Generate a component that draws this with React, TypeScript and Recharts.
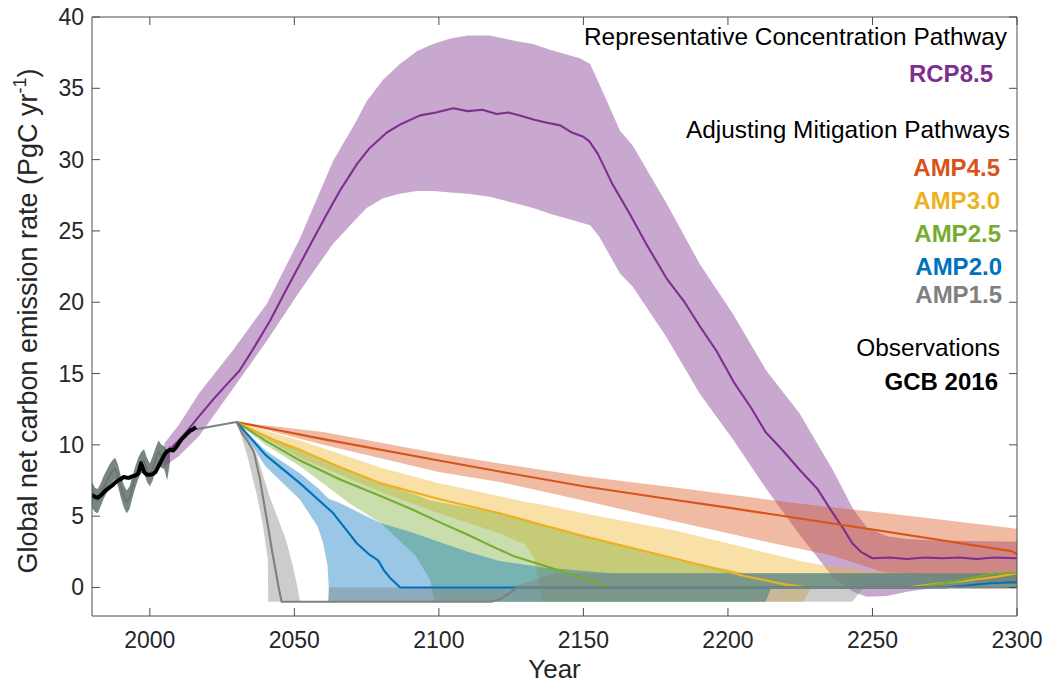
import { Area, ComposedChart, Line, XAxis, YAxis } from "recharts";

const FONT = '"Liberation Sans", Arial, Helvetica, sans-serif';
const AXIS = "#4d4d4d";
const TEXT = "#262626";

const X_TICKS = [2000, 2050, 2100, 2150, 2200, 2250, 2300];
const Y_TICKS = [0, 5, 10, 15, 20, 25, 30, 35, 40];

// GCB 2016 observations
const OBS_YEARS = [
  1980, 1981, 1982, 1983, 1984, 1985, 1986, 1987, 1988, 1989, 1990, 1991, 1992,
  1993, 1994, 1995, 1996, 1997, 1998, 1999, 2000, 2001, 2002, 2003, 2004, 2005,
  2006, 2007, 2008, 2009, 2010, 2011, 2012, 2013, 2014, 2015, 2016,
];
const OBS = [
  6.5, 6.35, 6.3, 6.45, 6.65, 6.85, 7.0, 7.15, 7.35, 7.5, 7.6, 7.75, 7.7, 7.7,
  7.8, 7.85, 8.0, 8.7, 8.1, 7.9, 7.9, 7.95, 8.1, 8.5, 8.9, 9.3, 9.55, 9.65, 9.6,
  9.8, 10.1, 10.4, 10.6, 10.8, 11.0, 11.1, 11.25,
];

// historical ensemble range (all pathways overlapping)
const HIST_YEARS = [
  1980, 1981, 1982, 1983, 1984, 1985, 1986, 1987, 1988, 1989, 1990, 1991, 1992,
  1993, 1994, 1995, 1996, 1997, 1998, 1999, 2000, 2001, 2002, 2003, 2004, 2005,
  2006, 2007,
];
const HIST_LO = [
  5.6, 5.3, 5.2, 5.7, 6.2, 6.6, 7.0, 7.4, 7.6, 7.1, 6.3, 5.6, 5.2, 5.5, 6.3, 7.0,
  7.6, 8.0, 8.1, 7.4, 7.1, 7.5, 8.2, 8.7, 8.4, 8.3, 7.5, 8.8,
];
const HIST_HI = [
  7.4, 7.0, 6.9, 7.3, 7.8, 8.2, 8.6, 8.9, 9.1, 8.6, 7.8, 7.2, 6.8, 7.1, 7.8, 8.5,
  9.1, 9.5, 9.7, 9.1, 8.7, 9.2, 9.8, 10.3, 10.0, 9.9, 9.6, 10.0,
];
const HIST_MEAN = [
  6.5, 6.15, 6.05, 6.5, 7.0, 7.4, 7.8, 8.15, 8.35, 7.85, 7.05, 6.4, 6.0, 6.3,
  7.05, 7.75, 8.35, 8.75, 8.9, 8.25, 7.9, 8.35, 9.0, 9.5, 9.2, 9.3,
];

// RCP8.5
const RCP_YEARS = [
  2005, 2008, 2010, 2013, 2017, 2022, 2026, 2031, 2036, 2041.6, 2047, 2052, 2057,
  2061.3, 2066, 2071.7, 2076, 2082, 2087, 2093.5, 2099, 2105, 2110, 2115, 2120,
  2124, 2128, 2133, 2137, 2142, 2146, 2150, 2152, 2155, 2160, 2166, 2172, 2179,
  2185, 2190, 2196, 2202, 2208, 2213, 2219, 2225, 2231, 2236, 2240, 2243, 2246,
  2250, 2256, 2262, 2268, 2274, 2280, 2286, 2292, 2300,
];
const RCP = [
  9.3, 9.9, 10.3, 11.0, 12.0, 13.2, 14.1, 15.2, 16.8, 18.7, 20.8, 22.7, 24.6,
  26.2, 27.9, 29.7, 30.8, 31.9, 32.5, 33.1, 33.3, 33.6, 33.4, 33.5, 33.2, 33.3,
  33.1, 32.8, 32.6, 32.4, 31.9, 31.6, 31.3, 30.4, 28.3, 26.2, 24.0, 21.6, 20.0,
  18.4, 16.6, 14.4, 12.6, 10.9, 9.6, 8.2, 6.9, 5.3, 4.1, 3.1, 2.5, 2.05, 2.1,
  2.0, 2.1, 2.05, 2.1, 2.0, 2.1, 2.05,
];
const RCP_BAND_YEARS = [
  2005, 2010, 2017, 2029, 2040.5, 2052, 2063.4, 2071.7, 2075, 2080.7, 2086.5,
  2092.4, 2098, 2104, 2110, 2117.7, 2127, 2132.6, 2138.4, 2148.8, 2152.3, 2155.5,
  2162.7, 2167, 2178.6, 2190.2, 2201.7, 2213.3, 2224.8, 2236.4, 2243.3, 2248,
  2255, 2262, 2272, 2300,
];
const RCP_HI = [
  10.1, 11.4, 13.6, 16.7, 19.9, 24.5, 29.9, 32.8, 34.1, 35.6, 36.7, 37.6, 38.1,
  38.5, 38.7, 38.7, 38.3, 38.1, 37.7, 37.1, 36.7, 35.3, 32.0, 31.0, 27.0, 22.7,
  19.2, 15.2, 12.2, 8.2, 5.5, 4.2, 3.6, 3.4, 3.3, 3.2,
];
const RCP_LO = [
  8.5, 9.2, 10.6, 14.0, 17.3, 20.8, 24.1, 25.9, 26.6, 27.3, 27.6, 27.8, 27.8,
  27.7, 27.6, 27.4, 26.9, 26.6, 26.2, 25.6, 25.4, 24.6, 22.0, 21.1, 17.6, 13.6,
  10.4, 6.9, 3.7, 0.7, -0.3, -0.65, -0.6, -0.3, 0, 0.3,
];

// AMP4.5
const A45_YEARS = [2030, 2060, 2100, 2121, 2150, 2183, 2200, 2250, 2298, 2300];
const A45 = [11.6, 10.4, 8.9, 8.13, 7.1, 6.1, 5.6, 4.06, 2.55, 2.35];
const A45_BAND_YEARS = [2030, 2060, 2100, 2121, 2150, 2183, 2220, 2235, 2255, 2298, 2300];
const A45_HI = [11.6, 10.9, 9.4, 8.7, 7.8, 6.97, 6.0, 5.65, 5.2, 4.17, 4.1];
const A45_LO = [11.6, 10.0, 8.1, 7.4, 6.1, 4.57, 2.9, 2.3, 1.0, 0.3, 0.2];

// AMP3.0
const A30_YEARS = [
  2030, 2036, 2042, 2052, 2065, 2080, 2100, 2121, 2150, 2183, 2206, 2220, 2228,
  2262, 2270, 2281, 2293, 2300,
];
const A30 = [
  11.6, 11.0, 10.4, 9.65, 8.5, 7.3, 6.2, 5.2, 3.6, 1.96, 0.79, 0.2, 0, 0, 0.2,
  0.44, 0.75, 1.0,
];
const A30_BAND_YEARS = [
  2030, 2052, 2080, 2100, 2121, 2130, 2133, 2136, 2150, 2183, 2210, 2226, 2229,
  2235, 2250, 2265, 2300,
];
const A30_HI = [
  11.6, 10.3, 8.4, 7.3, 6.4, 6.0, 5.9, 5.8, 5.2, 3.94, 2.6, 1.8, 1.7, 1.5, 1.15,
  1.0, 1.0,
];
const A30_LO = [11.6, 9.1, 6.7, 5.2, 3.8, 3.0, 2.0, -1, -1, -1, -1, -1, 0, 0, 0, 0, 0];

// AMP2.5
const A25_YEARS = [
  2030, 2040, 2052, 2066, 2080, 2091, 2100, 2110, 2121, 2126, 2140, 2150, 2159,
  2265, 2276, 2283, 2291, 2300,
];
const A25 = [
  11.6, 10.3, 8.9, 7.55, 6.4, 5.45, 4.6, 3.7, 2.64, 2.19, 1.3, 0.65, 0, 0, 0.33,
  0.6, 0.96, 1.05,
];
const A25_BAND_YEARS = [
  2030, 2040, 2052, 2069, 2080, 2092, 2097, 2098.5, 2121, 2150, 2183, 2206, 2213,
  2215, 2300,
];
const A25_HI = [11.6, 10.7, 9.65, 8.2, 7.3, 6.5, 6.1, 6.05, 5.2, 3.6, 1.96, 1.0, 1.0, 1.0, 1.0];
const A25_LO = [11.6, 10.0, 8.5, 5.9, 4.5, 2.2, 0.5, -1, -1, -1, -1, -1, -1, 0, 0];

// AMP2.0
const A20_YEARS = [
  2030, 2040, 2052, 2063.5, 2071.6, 2076, 2079, 2081, 2083, 2086.6, 2275, 2281,
  2290.6, 2300,
];
const A20 = [11.6, 9.3, 7.3, 5.2, 3.1, 2.3, 1.9, 1.2, 0.7, 0, 0, 0.1, 0.3, 0.37];
const A20_BAND_YEARS = [
  2030, 2040, 2052, 2058, 2060, 2061.5, 2061.9, 2062, 2065, 2075, 2080, 2090, 2100,
  2110, 2121, 2133, 2136, 2160, 2213, 2215, 2300,
];
const A20_HI = [
  11.6, 9.6, 8.0, 7.0, 6.6, 6.3, 6.25, 6.2, 6.0, 5.0, 4.5, 3.9, 3.2, 2.5, 1.85,
  1.5, 1.4, 1.0, 1.0, 1.0, 1.0,
];
const A20_LO = [
  11.6, 8.5, 6.15, 4.3, 3.1, 1.5, 0, -1, -1, -1, -1, -1, -1, -1, -1, -1, -1, -1,
  -1, 0, 0,
];

// AMP1.5 (also carries the bridge from the observations to 2030)
const A15_YEARS = [
  2016, 2030, 2032, 2034, 2036, 2038, 2039.3, 2040.8, 2042.2, 2044.5, 2045.6,
  2114, 2118, 2121, 2124.6, 2127, 2300,
];
const A15 = [
  11.1, 11.6, 10.8, 10.2, 9.5, 7.7, 6.15, 4.4, 2.66, 0.09, -1, -1, -1, -0.84,
  -0.37, 0, 0,
];
const A15_BAND_YEARS = [
  2030, 2032, 2034, 2037, 2039, 2040.8, 2041, 2044, 2047, 2049.5, 2051, 2052,
  2061.5, 2062, 2125, 2140, 2243, 2247, 2300,
];
const A15_HI = [
  11.6, 11.2, 10.5, 9.3, 8.0, 6.8, 6.6, 5.0, 3.4, 1.5, 0.1, -1, -1, 0, 0, 1.0,
  1.0, 1.0, 1.0,
];
const A15_LO = [
  11.6, 10.4, 9.0, 6.5, 4.5, 2.0, -1, -1, -1, -1, -1, -1, -1, -1, -1, -1, -1, 0, 0,
];

const toLine = (xs: number[], ys: number[]) => xs.map((x, i) => ({ x, y: ys[i] }));
const toBand = (xs: number[], lo: number[], hi: number[]) =>
  xs.map((x, i) => ({ x, band: [lo[i], hi[i]] }));

const C = {
  rcp: "#7E2F8E",
  a45: "#D95319",
  a30: "#EDB120",
  a25: "#77AC30",
  a20: "#0072BD",
  a15: "#808080",
};

const BottomTick = ({ x, y, payload }: any) => (
  <g>
    <line x1={x} y1={y} x2={x} y2={y - 8} stroke={AXIS} />
    <text x={x} y={y + 32} textAnchor="middle" fontSize={23} fill={TEXT} fontFamily={FONT}>
      {payload.value}
    </text>
  </g>
);
const TopTick = ({ x, y }: any) => <line x1={x} y1={y} x2={x} y2={y + 8} stroke={AXIS} />;
const LeftTick = ({ x, y, payload }: any) => (
  <g>
    <line x1={x} y1={y} x2={x + 8} y2={y} stroke={AXIS} />
    <text x={x - 8} y={y + 8} textAnchor="end" fontSize={23} fill={TEXT} fontFamily={FONT}>
      {payload.value}
    </text>
  </g>
);
const RightTick = ({ x, y }: any) => <line x1={x} y1={y} x2={x - 8} y2={y} stroke={AXIS} />;

const bandProps = { type: "linear" as const, dataKey: "band", stroke: "none", fillOpacity: 0.4, isAnimationActive: false };
const lineProps = { type: "linear" as const, dataKey: "y", dot: false, isAnimationActive: false, strokeLinejoin: "round" as const };

export default function App() {
  return (
    <div style={{ position: "absolute", left: 0, top: 0, width: 1049, height: 686, background: "#fff" }}>
      <ComposedChart width={1049} height={686} margin={{ top: 0, right: 0, bottom: 0, left: 0 }}>
        <XAxis
          dataKey="x"
          type="number"
          domain={[1980, 2300]}
          ticks={X_TICKS}
          allowDataOverflow
          height={70}
          tickSize={0}
          tickMargin={0}
          tickLine={false}
          axisLine={{ stroke: AXIS }}
          tick={(p: any) => <BottomTick {...p} />}
        />
        <XAxis
          xAxisId="top"
          orientation="top"
          dataKey="x"
          type="number"
          domain={[1980, 2300]}
          ticks={X_TICKS}
          allowDataOverflow
          height={17}
          tickSize={0}
          tickMargin={0}
          tickLine={false}
          axisLine={{ stroke: AXIS }}
          tick={(p: any) => <TopTick {...p} />}
        />
        <YAxis
          type="number"
          domain={[-2, 40]}
          ticks={Y_TICKS}
          allowDataOverflow
          width={92}
          tickSize={0}
          tickMargin={0}
          tickLine={false}
          axisLine={{ stroke: AXIS }}
          tick={(p: any) => <LeftTick {...p} />}
        />
        <YAxis
          yAxisId="right"
          orientation="right"
          type="number"
          domain={[-2, 40]}
          ticks={Y_TICKS}
          allowDataOverflow
          width={32}
          tickSize={0}
          tickMargin={0}
          tickLine={false}
          axisLine={{ stroke: AXIS }}
          tick={(p: any) => <RightTick {...p} />}
        />

        <Area {...bandProps} data={toBand(HIST_YEARS, HIST_LO, HIST_HI)} fill="#74887c" fillOpacity={1} />
        <Area {...bandProps} data={toBand(RCP_BAND_YEARS, RCP_LO, RCP_HI)} fill={C.rcp} fillOpacity={0.42} />
        <Area {...bandProps} data={toBand(A45_BAND_YEARS, A45_LO, A45_HI)} fill={C.a45} />
        <Area {...bandProps} data={toBand(A30_BAND_YEARS, A30_LO, A30_HI)} fill={C.a30} />
        <Area {...bandProps} data={toBand(A25_BAND_YEARS, A25_LO, A25_HI)} fill={C.a25} />
        <Area {...bandProps} data={toBand(A20_BAND_YEARS, A20_LO, A20_HI)} fill={C.a20} />
        <Area {...bandProps} data={toBand(A15_BAND_YEARS, A15_LO, A15_HI)} fill={C.a15} />

        <Line {...lineProps} data={toLine(HIST_YEARS.slice(0, HIST_MEAN.length), HIST_MEAN)} stroke={C.rcp} strokeOpacity={0.45} strokeWidth={1.2} />
        <Line {...lineProps} data={toLine(RCP_YEARS, RCP)} stroke={C.rcp} strokeWidth={2.1} />
        <Line {...lineProps} data={toLine(A45_YEARS, A45)} stroke={C.a45} strokeWidth={2.1} />
        <Line {...lineProps} data={toLine(A30_YEARS, A30)} stroke={C.a30} strokeWidth={2.1} />
        <Line {...lineProps} data={toLine(A25_YEARS, A25)} stroke={C.a25} strokeWidth={2.1} />
        <Line {...lineProps} data={toLine(A20_YEARS, A20)} stroke={C.a20} strokeWidth={2.1} />
        <Line {...lineProps} data={toLine(A15_YEARS, A15)} stroke={C.a15} strokeWidth={2.1} />
        <Line {...lineProps} data={toLine(OBS_YEARS, OBS)} stroke="#000" strokeWidth={4} />
      </ComposedChart>

      <svg
        width={1049}
        height={686}
        style={{ position: "absolute", left: 0, top: 0, pointerEvents: "none" }}
        fontFamily={FONT}
      >
        <text x={1007} y={45} textAnchor="end" fontSize={24.4} fill="#000">
          Representative Concentration Pathway
        </text>
        <text x={993} y={82} textAnchor="end" fontSize={24} fontWeight="bold" fill={C.rcp}>
          RCP8.5
        </text>
        <text x={1010} y={138} textAnchor="end" fontSize={24.4} fill="#000">
          Adjusting Mitigation Pathways
        </text>
        <text x={1000} y={176} textAnchor="end" fontSize={24} fontWeight="bold" fill={C.a45}>
          AMP4.5
        </text>
        <text x={1000} y={209} textAnchor="end" fontSize={24} fontWeight="bold" fill={C.a30}>
          AMP3.0
        </text>
        <text x={1001} y={242} textAnchor="end" fontSize={24} fontWeight="bold" fill={C.a25}>
          AMP2.5
        </text>
        <text x={1002} y={275} textAnchor="end" fontSize={24} fontWeight="bold" fill={C.a20}>
          AMP2.0
        </text>
        <text x={1002} y={303} textAnchor="end" fontSize={24} fontWeight="bold" fill={C.a15}>
          AMP1.5
        </text>
        <text x={1000} y={356} textAnchor="end" fontSize={24.4} fill="#000">
          Observations
        </text>
        <text x={998} y={390} textAnchor="end" fontSize={24} fontWeight="bold" fill="#000">
          GCB 2016
        </text>

        <text x={554.5} y={678} textAnchor="middle" fontSize={26} fill={TEXT}>
          Year
        </text>
        <text transform="translate(37,321) rotate(-90)" textAnchor="middle" fontSize={27} fill={TEXT}>
          Global net carbon emission rate (PgC yr
          <tspan fontSize={18} dy={-11}>-1</tspan>
          <tspan dy={11}>)</tspan>
        </text>
      </svg>
    </div>
  );
}
